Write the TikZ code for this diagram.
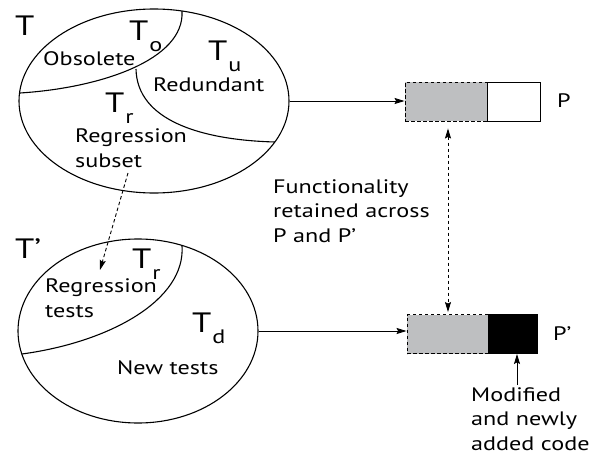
\documentclass[tikz,border=0pt]{standalone}
\usepackage{fontspec}
\setmainfont{PT Sans}[FakeStretch=1.24]
\usetikzlibrary{shapes.geometric,arrows.meta,calc}

% text sizes
\newcommand{\txt}{\fontsize{19.5}{24.5}\selectfont}
\newcommand{\bigT}{\fontsize{28}{30}\selectfont}
% T with a lowered subscript
\newcommand{\Tset}[1]{{\bigT T}\kern1pt\raisebox{-11pt}{\txt #1}}

\definecolor{keptgray}{RGB}{190,191,193}
\tikzset{
  set/.style={draw, ellipse, inner sep=0pt, line width=1.1pt},
  cut/.style={line width=1.1pt},
  % multi-line labels are placed by the baseline of their last line
  lbl/.style={inner sep=0pt, anchor=base west, font=\txt, align=left},
  tlbl/.style={inner sep=0pt, anchor=base west},
  tip/.tip={Stealth[length=10pt,width=6pt,inset=1.5pt]},
  arr/.style={line width=0.9pt, -tip},
  darr/.style={line width=0.9pt, dash pattern=on 3.5pt off 2.5pt, tip-tip},
  dsarr/.style={line width=0.9pt, dash pattern=on 3.5pt off 2.5pt, -tip},
  kept/.style={draw, fill=keptgray, dash pattern=on 3.5pt off 2.5pt, line width=0.9pt,
    minimum height=39pt, inner sep=0pt},
  part/.style={draw, line width=0.9pt, minimum height=39pt, inner sep=0pt}
}

\begin{document}
\begin{tikzpicture}[x=1pt, y=-1pt]
  \useasboundingbox (0,0) rectangle (598,458);

  % test suite T and its partition
  \node[set, minimum width=270pt, minimum height=184pt] (T) at (154,101) {};
  \draw[cut] (20,93) .. controls (100,88) and (185,60) .. (182,11);
  \draw[cut] (136,69) .. controls (137,120) and (200,140) .. (275,142);

  \node[tlbl] (tT) at (15,35) {\bigT T};
  \node[tlbl] (tTo) at (129,40) {\Tset{o}};
  \node[lbl] (obs) at (43,65) {Obsolete};
  \node[tlbl] (tTu) at (208,60) {\Tset{u}};
  \node[lbl] (red) at (153,91) {Redundant};
  \node[tlbl] (tTr) at (105,112) {\Tset{r}};
  \node[lbl] (rsub) at (75,167) {Regression\\subset};

  % test suite T' and its partition
  \node[set, minimum width=240pt, minimum height=184pt] (Tp) at (138,331) {};
  \draw[cut] (182,245.5) .. controls (186,300) and (110,342) .. (22,354);

  \node[tlbl] (tTp) at (15,258) {\bigT T’};
  \node[tlbl] (tTr2) at (132,268) {\Tset{r}};
  \node[lbl] (rtests) at (45,317) {Regression\\tests};
  \node[tlbl] (tTd) at (192,332) {\Tset{d}};
  \node[lbl] (newt) at (117,374) {New tests};

  % programs P and P'
  \node[kept, minimum width=82pt] (Pk) at (446,101.5) {};
  \node[part, minimum width=53pt, anchor=west] (Pw) at (Pk.east) {};
  \node[lbl] (lP) at (557,107) {P};

  \node[kept, minimum width=81pt] (Qk) at (447.5,334) {};
  \node[part, fill=black, minimum width=49pt, anchor=west] (Qb) at (Qk.east) {};
  \node[lbl] (lQ) at (553,340) {P’};

  % connectors
  \draw[arr] (T.east) -- (Pk.west |- T.east);
  \draw[arr] (Tp.east) -- (Qk.west |- Tp.east);

  \coordinate (rs) at (128,173);
  \coordinate (rt) at (100,270);
  \draw[dsarr] (rs) -- (rt);

  \draw[darr, shorten <=7pt, shorten >=2pt] ($(Pk.south)+(2,0)$) -- ($(Qk.north)+(0.5,0)$);

  \node[lbl] (func) at (273,242) {Functionality\\retained across\\P and P’};

  \node[lbl] (mod) at (471,450) {Modified\\and newly\\added code};
  \coordinate (mtop) at (517,385);
  \draw[arr] (mtop) -- (mtop |- Qb.south);
\end{tikzpicture}
\end{document}
